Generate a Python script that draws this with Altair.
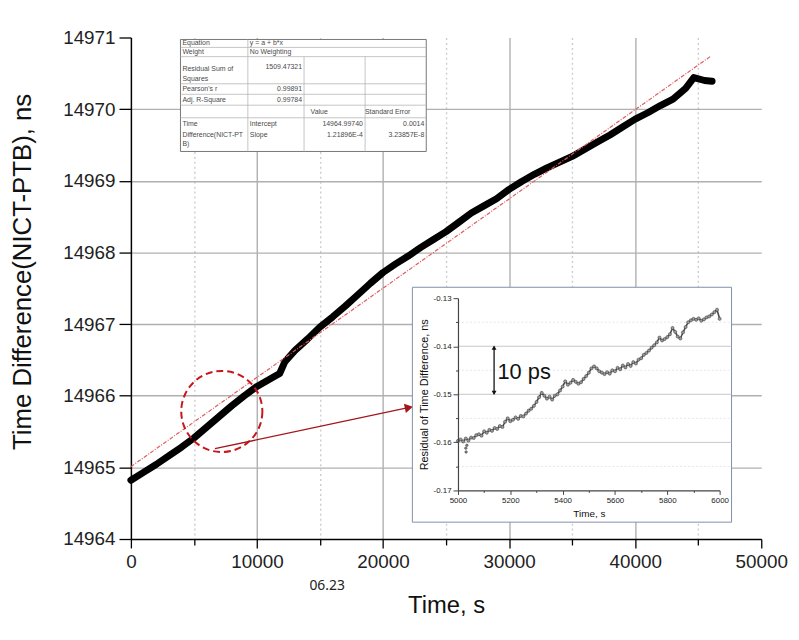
import altair as alt
import pandas as pd

# ---------------- data ----------------
main_t = [0, 1000, 2000, 3000, 4000, 5000, 6000, 7000, 8000, 9000,
          10000, 11000, 11800, 12200, 13000, 14000, 15000, 16000, 17000, 18000,
          19000, 20000, 21000, 22000, 23000, 24000, 25000, 26000, 27000, 28000, 29000,
          30000, 31000, 32000, 33000, 34000, 35000, 36000, 37000, 38000, 39000,
          40000, 41000, 42000, 43000, 44000, 44650, 45500, 46100]
main_td = [14964.82, 14964.93, 14965.04, 14965.16, 14965.28, 14965.41, 14965.56, 14965.71, 14965.86, 14966.00,
           14966.13, 14966.23, 14966.31, 14966.47, 14966.63, 14966.79, 14966.96, 14967.10, 14967.25, 14967.41,
           14967.57, 14967.72, 14967.84, 14967.95, 14968.07, 14968.18, 14968.29, 14968.42, 14968.55, 14968.65, 14968.75,
           14968.88, 14968.99, 14969.09, 14969.18, 14969.26, 14969.34, 14969.44, 14969.54, 14969.64, 14969.75,
           14969.86, 14969.95, 14970.05, 14970.14, 14970.29, 14970.44, 14970.40, 14970.39]

fit_t = [0, 46000]
fit_td = [14965.01, 14970.74]

inset_t = list(range(5000, 6001, 10))
inset_res = [-0.1597, -0.1594, -0.1598, -0.1592, -0.1596, -0.1590, -0.1591, -0.1585, -0.1583, -0.1586,
             -0.1577, -0.1580, -0.1574, -0.1576, -0.1570, -0.1572, -0.1566, -0.1568, -0.1557, -0.1550,
             -0.1556, -0.1553, -0.1548, -0.1551, -0.1545, -0.1546, -0.1540, -0.1534, -0.1530, -0.1524,
             -0.1516, -0.1506, -0.1497, -0.1503, -0.1509, -0.1505, -0.1511, -0.1503, -0.1500, -0.1492,
             -0.1484, -0.1473, -0.1480, -0.1476, -0.1470, -0.1474, -0.1478, -0.1475, -0.1468, -0.1462,
             -0.1455, -0.1446, -0.1442, -0.1446, -0.1452, -0.1455, -0.1458, -0.1454, -0.1457, -0.1450,
             -0.1452, -0.1445, -0.1448, -0.1440, -0.1444, -0.1437, -0.1441, -0.1433, -0.1436, -0.1428,
             -0.1425, -0.1418, -0.1414, -0.1409, -0.1403, -0.1398, -0.1392, -0.1382, -0.1388, -0.1385,
             -0.1381, -0.1375, -0.1362, -0.1370, -0.1380, -0.1384, -0.1371, -0.1360, -0.1350, -0.1346,
             -0.1343, -0.1345, -0.1342, -0.1347, -0.1344, -0.1340, -0.1338, -0.1334, -0.1329, -0.1324,
             -0.1343]
outlier_t = [5030, 5031, 5034]
outlier_res = [-0.1612, -0.1620, -0.1606]

x_ticks = [0, 5000, 10000, 15000, 20000, 25000, 30000, 35000, 40000, 45000, 50000]
y_ticks = [14964, 14964.5, 14965, 14965.5, 14966, 14966.5, 14967, 14967.5,
           14968, 14968.5, 14969, 14969.5, 14970, 14970.5, 14971]
xi_ticks = [5000, 5100, 5200, 5300, 5400, 5500, 5600, 5700, 5800, 5900, 6000]
yi_ticks = [-0.17, -0.165, -0.16, -0.155, -0.15, -0.145, -0.14, -0.135, -0.13]
inset_grid_major = [-0.14, -0.15, -0.16]
inset_grid_minor = [-0.135, -0.145, -0.155, -0.165]

table_rows = [
    ("Equation", "y = a + b*x"),
    ("Weight", "No Weighting"),
]
rss_val = "1509.47321"
pearson_val = "0.99891"
adjr_val = "0.99784"
intercept_val, intercept_err = "14964.99740", "0.0014"
slope_val, slope_err = "1.21896E-4", "3.23857E-8"

# ---------------- styles ----------------
REG = "Liberation Sans, Arial, sans-serif"
W, H = 636, 506
one = pd.DataFrame({"k": [0]})

# ---------------- main scales / axes ----------------
xs = alt.Scale(domain=[0, 50000], nice=False, zero=False)
ys = alt.Scale(domain=[14964, 14971], nice=False, zero=False)

xaxis = alt.Axis(
    values=x_ticks, format="d", title="Time, s",
    labelExpr="datum.value % 10000 == 0 ? datum.label : ''",
    tickSize={"condition": {"test": "datum.value % 10000 != 0", "value": 6}, "value": 9},
    gridDash={"condition": {"test": "datum.value % 10000 != 0", "value": [2, 3]}, "value": []},
    gridColor={"condition": {"test": "datum.value % 10000 != 0", "value": "#cdcdcd"}, "value": "#b0b0b0"},
    gridOpacity={"condition": {"test": "datum.value == 0 || datum.value == 50000", "value": 0}, "value": 1},
    gridWidth=1.4, grid=True,
    domainColor="black", domainWidth=1.5, tickColor="black", tickWidth=1.3,
    labelFont=REG, labelFontSize=19, labelColor="#222", labelPadding=5,
    labelFlush=False, labelOverlap=False,
    titleFont=REG, titleFontSize=24, titleFontWeight="normal", titleColor="#111",
    titleY=55, titleBaseline="top",
)
yaxis = alt.Axis(
    values=y_ticks, format="d", title="Time Difference(NICT-PTB), ns",
    labelExpr="datum.value % 1 == 0 ? datum.label : ''",
    tickSize={"condition": {"test": "datum.value % 1 != 0", "value": 5}, "value": 12},
    gridDash={"condition": {"test": "datum.value % 1 != 0", "value": [2, 3]}, "value": []},
    gridColor={"condition": {"test": "datum.value % 1 != 0", "value": "#cdcdcd"}, "value": "#b0b0b0"},
    gridOpacity={"condition": {"test": "datum.value == 14964 || datum.value == 14971", "value": 0}, "value": 1},
    gridWidth=1.4, grid=True,
    domainColor="black", domainWidth=1.5, tickColor="black", tickWidth=1.3,
    labelFont=REG, labelFontSize=19, labelColor="#222", labelPadding=4,
    labelFlush=False, labelOverlap=False,
    titleFont=REG, titleFontSize=26, titleFontWeight="normal", titleColor="#111",
    titleX=-96, titleY=236, titleBaseline="bottom",
)
X = alt.X("t:Q", scale=xs, axis=xaxis)
Y = alt.Y("td:Q", scale=ys, axis=yaxis)

main_df = pd.DataFrame({"t": main_t, "td": main_td})
fit_df = pd.DataFrame({"t": fit_t, "td": fit_td})

curve = alt.Chart(main_df).mark_line(
    color="black", strokeWidth=7, strokeCap="round", strokeJoin="round"
).encode(x=X, y=Y)
fit = alt.Chart(fit_df).mark_line(
    color="#e25a5e", strokeWidth=1.2, strokeDash=[4, 1.5, 1, 1.5]
).encode(x=X, y=Y)

circle = alt.Chart(pd.DataFrame({"t": [7210], "td": [14965.78]})).mark_point(
    shape="circle", size=6700, filled=False, stroke="#c8161d", strokeWidth=2,
    strokeDash=[7, 4], opacity=1
).encode(x=X, y=Y)

arrow_df = pd.DataFrame({"t": [6659], "td": [14965.26], "t2": [21900], "td2": [14965.83]})
arrow = alt.Chart(arrow_df).mark_rule(color="#a3161c", strokeWidth=1.3).encode(
    x=X, y=Y, x2=alt.X2("t2"), y2=alt.Y2("td2"))
arrow_head = alt.Chart(pd.DataFrame({"t": [22050], "td": [14965.835]})).mark_point(
    shape="triangle-right", size=90, filled=True, color="#a3161c", angle=348, opacity=1
).encode(x=X, y=Y)

note = alt.Chart(pd.DataFrame({"t": [15566], "td": [14963.34], "s": ["06.23"]})).mark_text(
    font="Noto Sans", fontSize=14, color="#222", align="center", baseline="middle"
).encode(x=X, y=Y, text="s:N")


def px_rule(x1, y1, x2, y2, color, w):
    return alt.Chart(one).mark_rule(color=color, strokeWidth=w).encode(
        x=alt.value(x1), x2=alt.value(x2), y=alt.value(y1), y2=alt.value(y2))


def px_text(x, y, s, align="left", size=7, color="#4a4a4a"):
    return alt.Chart(one).mark_text(
        font=REG, fontSize=size, color=color, align=align, baseline="middle"
    ).encode(x=alt.value(x), y=alt.value(y), text=alt.value(s))


# table (pixel layout inside plot area)
tab = [alt.Chart(one).mark_rect(fill="white", stroke="#777777", strokeWidth=1).encode(
    x=alt.value(50), x2=alt.value(298), y=alt.value(2), y2=alt.value(115))]
for yy in [10, 19.3, 46.7, 57.3, 68.3, 81]:
    tab.append(px_rule(50, yy, 298, yy, "#b5b5b5", 0.8))
tab.append(px_rule(118, 2, 118, 115, "#b5b5b5", 0.8))
tab.append(px_rule(174.7, 19.3, 174.7, 115, "#b5b5b5", 0.8))
tab.append(px_rule(236.3, 19.3, 236.3, 115, "#b5b5b5", 0.8))
tab += [
    px_text(52, 6, table_rows[0][0]), px_text(120, 6, table_rows[0][1]),
    px_text(52, 14.7, table_rows[1][0]), px_text(120, 14.7, table_rows[1][1]),
    px_text(52, 32.3, "Residual Sum of"), px_text(52, 41.7, "Squares"),
    px_text(172.7, 30, rss_val, "right"),
    px_text(52, 51.7, "Pearson's r"), px_text(172.7, 51.7, pearson_val, "right"),
    px_text(52, 63.3, "Adj. R-Square"), px_text(172.7, 63.3, adjr_val, "right"),
    px_text(190, 75, "Value", "center"), px_text(259, 75, "Standard Error", "center"),
    px_text(52, 87, "Time"), px_text(52, 98, "Difference(NICT-PT"), px_text(52, 107, "B)"),
    px_text(120, 87, "Intercept"), px_text(120, 98, "Slope"),
    px_text(234, 87, intercept_val, "right"), px_text(234, 98, slope_val, "right"),
    px_text(296, 87, intercept_err, "right"), px_text(296, 98, slope_err, "right"),
]

main_group = alt.layer(curve, fit, circle, arrow, arrow_head, note, *tab)

# ---------------- inset ----------------
xis = alt.Scale(domain=[5000, 6000], range=[330, 594], nice=False, zero=False)
yis = alt.Scale(domain=[-0.17, -0.13], range=[457, 263], nice=False, zero=False)
xiaxis = alt.Axis(
    orient="bottom", offset=-49, values=xi_ticks, format="d", title="Time, s",
    labelExpr="datum.value % 200 == 0 ? datum.label : ''",
    tickSize={"condition": {"test": "datum.value % 200 != 0", "value": 2}, "value": 4},
    grid=False, zindex=1, domainColor="#444", domainWidth=1.2, tickColor="#444",
    labelFont=REG, labelFontSize=8, labelColor="#222", labelPadding=2, labelFlush=False,
    labelOverlap=False,
    titleFont=REG, titleFontSize=10, titleFontWeight="normal", titleColor="#111", titlePadding=4,
)
yiaxis = alt.Axis(
    orient="left", offset=-330, values=yi_ticks, format=".2f",
    title="Residual of Time Difference, ns",
    labelExpr="round(datum.value * 1000) % 10 == 0 ? replace(datum.label, '\u2212', '-') : ''",
    tickSize={"condition": {"test": "round(datum.value * 1000) % 10 != 0", "value": 2.5}, "value": 5},
    grid=False, zindex=1, domainColor="#444", domainWidth=1.2, tickColor="#444",
    labelFont=REG, labelFontSize=8, labelColor="#222", labelPadding=2, labelFlush=False,
    labelOverlap=False,
    titleFont=REG, titleFontSize=11, titleFontWeight="normal", titleColor="#111", titlePadding=4,
)
XI = alt.X("ti:Q", scale=xis, axis=xiaxis)
YI = alt.Y("r:Q", scale=yis, axis=yiaxis)

box = alt.Chart(one).mark_rect(fill="white", stroke="#8090aa", strokeWidth=1).encode(
    x=alt.value(284), x2=alt.value(606), y=alt.value(252), y2=alt.value(489))

gmaj = alt.Chart(pd.DataFrame({"ti": [5000] * 3, "ti2": [6045] * 3, "r": inset_grid_major})).mark_rule(
    color="#c6c6c6", strokeWidth=1).encode(x=XI, x2=alt.X2("ti2"), y=YI)
gmin = alt.Chart(pd.DataFrame({"ti": [5000] * 4, "ti2": [6045] * 4, "r": inset_grid_minor})).mark_rule(
    color="#e6e6e6", strokeWidth=1, strokeDash=[2, 2]).encode(x=XI, x2=alt.X2("ti2"), y=YI)

res_df = pd.DataFrame({"ti": inset_t, "r": inset_res})
res_line = alt.Chart(res_df).mark_line(color="#4a4a4a", strokeWidth=1.6).encode(x=XI, y=YI)
res_pts = alt.Chart(res_df).mark_point(
    shape="circle", filled=True, size=10, fill="#9a9a9a", stroke="#333333", strokeWidth=0.5, opacity=1
).encode(x=XI, y=YI)
out_pts = alt.Chart(pd.DataFrame({"ti": outlier_t, "r": outlier_res})).mark_point(
    shape="circle", filled=True, size=6, fill="#8c8c8c", stroke="#2a2a2a", strokeWidth=0.5, opacity=1
).encode(x=XI, y=YI)

dbl = alt.Chart(pd.DataFrame({"ti": [5138], "r": [-0.1401], "r2": [-0.1499]})).mark_rule(
    color="#111", strokeWidth=1.3).encode(x=XI, y=YI, y2=alt.Y2("r2"))
dbl_up = alt.Chart(pd.DataFrame({"ti": [5138], "r": [-0.1403]})).mark_point(
    shape="triangle-up", size=24, filled=True, color="#111", opacity=1).encode(x=XI, y=YI)
dbl_dn = alt.Chart(pd.DataFrame({"ti": [5138], "r": [-0.1497]})).mark_point(
    shape="triangle-down", size=24, filled=True, color="#111", opacity=1).encode(x=XI, y=YI)
ten = alt.Chart(pd.DataFrame({"ti": [5151], "r": [-0.1468], "s": ["10 ps"]})).mark_text(
    font=REG, fontSize=22, color="#111", align="left", baseline="alphabetic"
).encode(x=XI, y=YI, text="s:N")

inset_group = alt.layer(box, gmin, gmaj, res_line, res_pts, out_pts, dbl, dbl_up, dbl_dn, ten)

chart = alt.layer(main_group, inset_group).resolve_scale(
    x="independent", y="independent"
).properties(
    width=W, height=H,
    autosize=alt.AutoSizeParams(type="none"),
    padding={"left": 124, "top": 27, "right": 30, "bottom": 85},
    background="white",
).configure_view(stroke=None)

chart.save("out.html", embed_options={"renderer": "svg", "actions": False})
